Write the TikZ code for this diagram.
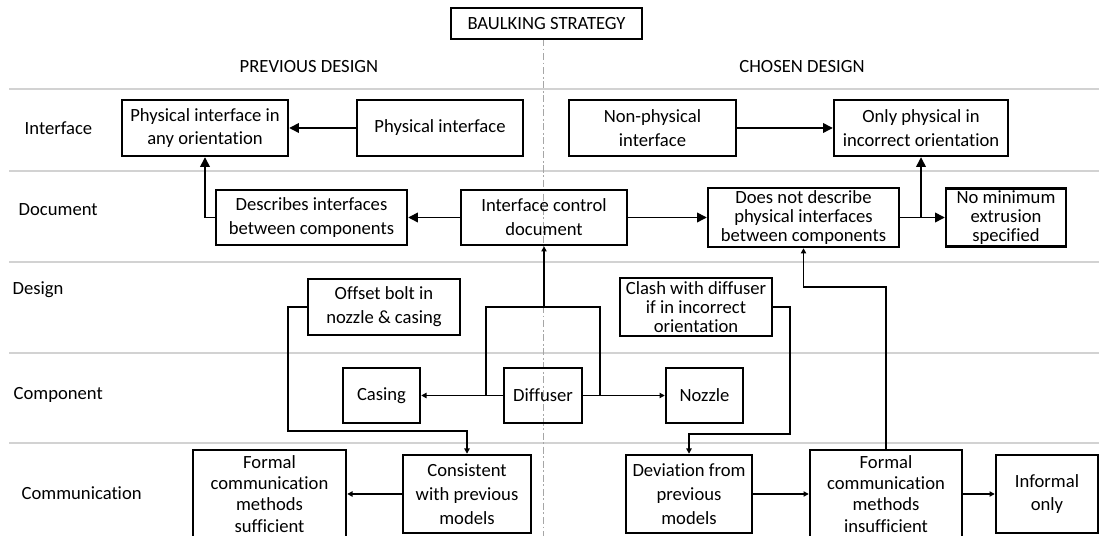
\documentclass[tikz,border=0pt]{standalone}
\usepackage{fontspec}
\setmainfont{Carlito}[Ligatures=NoCommon]
\usetikzlibrary{arrows.meta}

\tikzset{
	blk/.style={draw, line width=1.4pt, align=center, inner sep=0pt},
	sz/.style 2 args={minimum width=#1*0.02cm, minimum height=#2*0.02cm},
	tight/.style={font=\fontsize{10.6}{10.8}\selectfont},
	loose/.style={font=\fontsize{10.6}{12}\selectfont},
	row/.style={anchor=west, inner sep=0pt},
	lane/.style={gray!35, line width=0.8pt},
	arr/.style={-{Triangle[length=5.5pt,width=5.5pt]}},
	sarr/.style={-{Triangle[length=3pt,width=3pt]}},
}

\begin{document}
\begin{tikzpicture}[x=0.02cm, y=-0.02cm, font=\fontsize{10.6}{13.6}\selectfont, line width=0.8pt]
	\useasboundingbox (0,0) rectangle (1099,536);
	\foreach \y in {89,171,262,353,443}
		\draw[lane] (9,\y) -- (1099,\y);
	\draw[gray!70, line width=0.4pt, dash pattern=on 4pt off 1.5pt on 1pt off 1.5pt] (543,39) -- (543,536);

	\node[blk, sz={191}{31}] (strat) at (546.5,23.5) {BAULKING STRATEGY};
	\node (prev) at (309,67) {PREVIOUS DESIGN};
	\node (chosen) at (802,67) {CHOSEN DESIGN};

	\node[row] (lint) at (24,128) {Interface};
	\node[row] (ldoc) at (18,210) {Document};
	\node[row] (ldes) at (12,290) {Design};
	\node[row] (lcomp) at (13,395) {Component};
	\node[row] (lcomm) at (21,493) {Communication};

	\node[blk, sz={166}{56}] (physany) at (205,128) {Physical interface in\\any orientation};
	\node[blk, sz={166}{56}] (phys) at (440,128) {Physical interface};
	\node[blk, sz={167}{56}] (nonphys) at (652.5,128) {Non-physical\\interface};
	\node[blk, sz={174}{56}] (onlyphys) at (921,128) {Only physical in\\incorrect orientation};

	\node[blk, sz={191}{55}] (describes) at (311.5,217.5) {Describes interfaces\\between components};
	\node[blk, sz={166}{55}] (icd) at (544,217.5) {Interface control\\document};
	\node[blk, tight, sz={191}{59}] (doesnot) at (803.5,217.5) {Does not describe\\physical interfaces\\between components};
	\node[blk, tight, sz={120}{58}] (nomin) at (1006,217.5) {No minimum\\extrusion\\specified};

	\node[blk, sz={152}{56}] (offset) at (384,307) {Offset bolt in\\nozzle \& casing};
	\node[blk, tight, sz={152}{58}] (clash) at (696,307) {Clash with diffuser\\if in incorrect\\orientation};

	\node[blk, sz={77}{55}] (casing) at (381.5,395.5) {Casing};
	\node[blk, sz={78}{55}] (diffuser) at (543,395.5) {Diffuser};
	\node[blk, sz={77}{55}] (nozzle) at (704.5,395.5) {Nozzle};

	\node[blk, loose, sz={153}{88}] (sufficient) at (269.5,494) {Formal\\communication\\methods\\sufficient};
	\node[blk, sz={128}{78}] (consistent) at (467,494) {Consistent\\with previous\\models};
	\node[blk, sz={126}{78}] (deviation) at (689,494) {Deviation from\\previous\\models};
	\node[blk, loose, sz={152}{88}] (insufficient) at (886,494) {Formal\\communication\\methods\\insufficient};
	\node[blk, sz={102}{78}] (informal) at (1047,494) {Informal\\only};

	\coordinate (hub) at (544,307);
	\coordinate (brl) at (486,395.5);
	\coordinate (brr) at (600,395.5);
	\coordinate (offbend) at (288,431);
	\coordinate (clbend) at (790,434);
	\coordinate (insbend) at (803.5,287);

	\draw[arr] (phys.west) -- (physany.east);
	\draw[arr] (nonphys.east) -- (onlyphys.west);
	\draw[arr] (icd.west) -- (describes.east);
	\draw[arr] (icd.east) -- (doesnot.west);
	\draw[arr] (doesnot.east) -- (nomin.west);
	\draw[arr] (describes.west) -| (physany.south);
	\draw[arr] (doesnot.east) -| (onlyphys.south);
	\draw[sarr] (diffuser.west) -- (casing.east);
	\draw[sarr] (diffuser.east) -- (nozzle.west);
	\draw (brl) |- (hub) -| (brr);
	\draw[sarr] (hub) -- (icd.south);
	\draw[sarr] (offset.west) -| (offbend) -| (consistent.north);
	\draw[sarr] (clash.east) -| (clbend) -| (deviation.north);
	\draw[sarr] (insufficient.north) |- (insbend) -- (doesnot.south);
	\draw[sarr] (consistent.west) -- (sufficient.east);
	\draw[sarr] (deviation.east) -- (insufficient.west);
	\draw[sarr] (insufficient.east) -- (informal.west);
\end{tikzpicture}
\end{document}
